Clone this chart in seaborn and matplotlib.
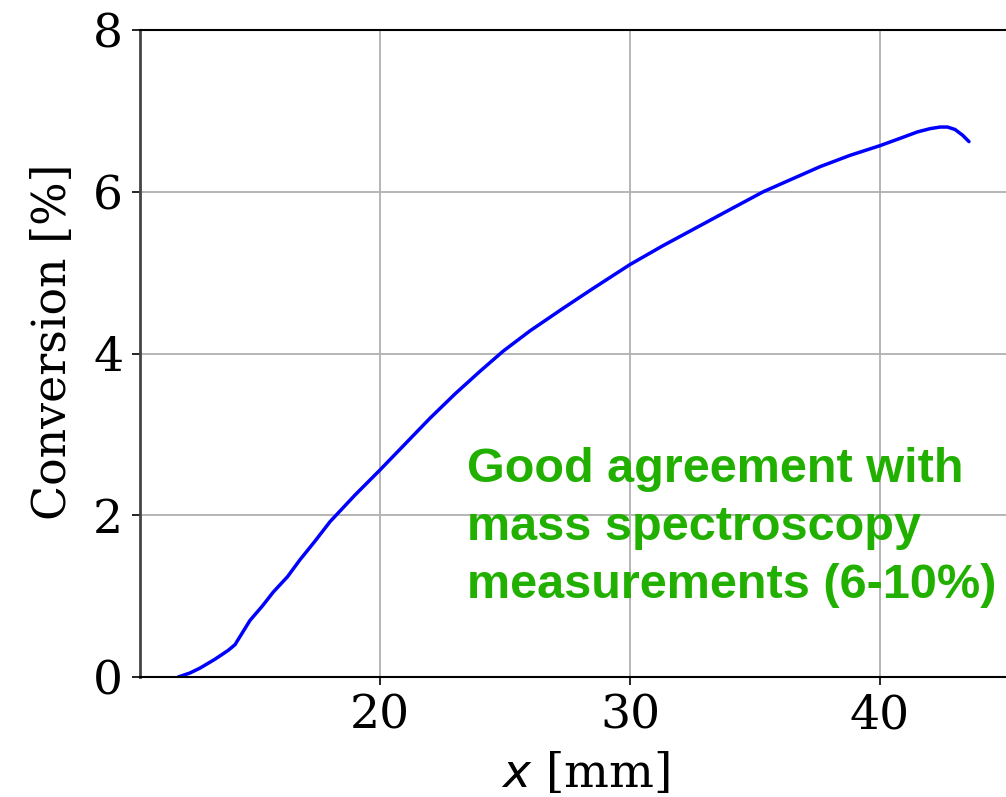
import matplotlib
matplotlib.use("Agg")
import matplotlib.pyplot as plt
import seaborn as sns
import pandas as pd

# Data
x_mm = [11.93, 12.4, 12.8, 13.4, 13.93, 14.2, 14.4, 14.8, 15.3, 15.73, 16.3, 16.8,
        17.4, 18.0, 19.0, 20.0, 21.0, 22.0, 23.0, 24.0, 24.93, 26.0, 27.33, 28.5,
        30.0, 31.3, 32.5, 34.0, 35.33, 36.5, 37.6, 38.8, 40.0, 40.8, 41.5, 42.0,
        42.4, 42.7, 43.0, 43.3, 43.56]
conversion = [0.0, 0.05, 0.11, 0.22, 0.33, 0.40, 0.50, 0.70, 0.88, 1.05, 1.24, 1.45,
              1.68, 1.92, 2.25, 2.56, 2.88, 3.20, 3.50, 3.78, 4.03, 4.28, 4.56, 4.80,
              5.10, 5.33, 5.53, 5.78, 6.00, 6.16, 6.31, 6.45, 6.57, 6.66, 6.74, 6.78,
              6.80, 6.80, 6.77, 6.70, 6.62]
xticks = [20, 30, 40]
yticks = [0, 2, 4, 6, 8]
note = "Good agreement with\nmass spectroscopy\nmeasurements (6-10%)"

sns.set_style("whitegrid")
plt.rcParams['font.family'] = ['DejaVu Serif']
plt.rcParams['mathtext.fontset'] = 'dejavusans'

df = pd.DataFrame({"x": x_mm, "c": conversion})

W, H = 1006, 797
fig = plt.figure(figsize=(W / 100, H / 100), dpi=100)
left, right, top, bottom = 140, 1030, 30, 677
ax = fig.add_axes([left / W, (H - bottom) / H, (right - left) / W, (bottom - top) / H])

sns.lineplot(data=df, x="x", y="c", ax=ax, color="#0000ff", linewidth=2.5, sort=False)

ax.set_xlim(10.4, 46.0)
ax.set_ylim(0, 8)
ax.set_xticks(xticks)
ax.set_yticks(yticks)
ax.grid(True, color="#b0b0b0", linewidth=1.3)
ax.tick_params(axis="both", direction="out", length=6, width=1.2, labelsize=34,
               colors="black", left=True, bottom=True, pad=6)
for s in ax.spines.values():
    s.set_visible(True)
    s.set_color("black")
    s.set_linewidth(1.5)
ax.spines["left"].set_color("#444444")
ax.spines["left"].set_linewidth(2.0)

ax.set_xlabel("$x$ [mm]", fontsize=34, labelpad=9, color="black")
ax.set_ylabel("Conversion [%]", fontsize=33, color="black")
ax.yaxis.set_label_coords(-0.072, 0.518)

ax.text(467 / W, (H - 598) / H, note, transform=fig.transFigure,
        fontsize=35, fontweight="bold", color="#22b000",
        family=["Liberation Sans", "DejaVu Sans"], ha="left", va="baseline",
        linespacing=1.37)

fig.savefig("out.png", dpi=100)
